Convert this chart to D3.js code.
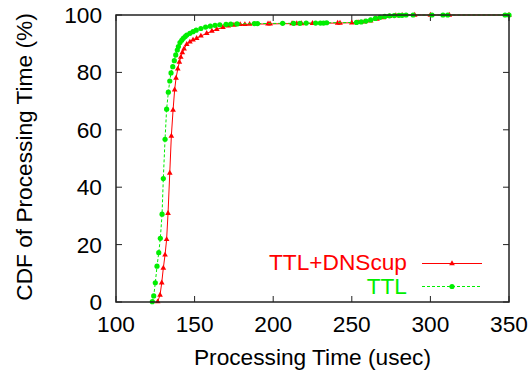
<!DOCTYPE html>
<html><head><meta charset="utf-8">
<script src="https://cdn.jsdelivr.net/npm/d3@7"></script>
<style>body{margin:0;background:#fff}svg{display:block}text{font-family:"Liberation Sans",Arial,sans-serif;}</style>
</head><body><svg id="c" width="532" height="375"></svg>
<script>
const xTicks = [100,150,200,250,300,350];
const yTicks = [0,20,40,60,80,100];
const seriesNames = ["TTL+DNScup","TTL"];
const dnscupX = [126.5,128.0,129.1,130.1,131.2,132.2,133.1,134.2,135.2,136.3,137.3,138.2,139.3,140.3,141.2,142.2,143.3,145.0,147,149,151.3,154,157.7,161,164.1,168,171.4,175,179,182,185,196.7,198,212,215,218,225,241,242.5,250,254,258,262,266,270,274,278,282,290,300,312,350];
const dnscupY = [0.1,2.4,6.7,11.8,16.4,21.8,30.9,44.9,57.8,66.9,73.9,78.0,81.2,83.6,85.3,86.9,88.2,89.8,90.6,91.3,91.9,92.7,93.6,94.4,95.0,95.7,96.2,96.5,96.7,96.7,96.8,96.9,96.9,97.0,97.0,97.0,97.1,97.2,97.2,97.3,97.4,97.6,98.0,98.6,99.1,99.5,99.8,99.9,100,100,100,100];
const ttlX = [123.1,124.0,125.0,126.1,127.2,128.2,129.3,130.1,131.2,132.2,133.3,134.2,135.0,136.1,137.1,138.0,139,139.7,140.7,141.8,142.8,144,145,147,149,151,154,157,160,163,166,170,173,177,188,190,206,213,217,221,227,230,232,234,253,256,259,262,265,268,271,274,277,280,282,284.5,289,301,308,311,347.5,350];
const ttlY = [0.1,2.1,6.7,12.5,17.2,22.2,30.6,43.0,56.7,67.2,73.1,77.0,79.8,82.0,84.1,86.1,87.8,89.0,90.4,91.2,91.9,92.5,93.0,93.6,94.2,94.7,95.3,95.8,96.1,96.4,96.6,96.7,96.8,96.9,97.0,97.0,97.1,97.1,97.1,97.2,97.2,97.2,97.2,97.3,97.4,97.6,97.9,98.3,98.8,99.2,99.5,99.7,99.8,99.9,99.9,100,100,100,100,100,100,100];

const svg = d3.select("#c");
const L=116,R=509,T=15,B=302;
const x = d3.scaleLinear().domain([100,350]).range([L,R]);
const y = d3.scaleLinear().domain([0,100]).range([B,T]);
const fs = 22.7;

const g = svg.append("g");
const tl = 6;
const ax = g.append("g").attr("stroke","#222").attr("stroke-width",1);
xTicks.forEach(v=>{
  ax.append("line").attr("x1",x(v)).attr("x2",x(v)).attr("y1",B).attr("y2",B-tl);
  ax.append("line").attr("x1",x(v)).attr("x2",x(v)).attr("y1",T).attr("y2",T+tl);
});
yTicks.forEach(v=>{
  ax.append("line").attr("x1",L).attr("x2",L+tl).attr("y1",y(v)).attr("y2",y(v));
  ax.append("line").attr("x1",R).attr("x2",R-tl).attr("y1",y(v)).attr("y2",y(v));
});
g.selectAll(".xl").data(xTicks).enter().append("text")
  .attr("x",d=>x(d)).attr("y",332).attr("text-anchor","middle").attr("font-size",fs).text(d=>d);
g.selectAll(".yl").data(yTicks).enter().append("text")
  .attr("x",102).attr("y",d=>y(d)+8).attr("text-anchor","end").attr("font-size",fs).text(d=>d);
g.append("text").attr("x",312.5).attr("y",365).attr("text-anchor","middle").attr("font-size",fs).text("Processing Time (usec)");
g.append("text").attr("transform","translate(32,157) rotate(-90)").attr("text-anchor","middle").attr("font-size",fs).text("CDF of Processing Time (%)");

const line = d3.line().x(d=>x(d[0])).y(d=>y(d[1]));
const red = dnscupX.map((v,i)=>[v,dnscupY[i]]);
const green = ttlX.map((v,i)=>[v,ttlY[i]]);
const tri = d3.symbol().type(d3.symbolTriangle).size(14);

g.append("path").datum(red).attr("d",line).attr("fill","none").attr("stroke","#ff0000").attr("stroke-width",1);
g.selectAll(".rm").data(red).enter().append("path").attr("d",tri).attr("transform",d=>`translate(${x(d[0])},${y(d[1])})`).attr("fill","#ff0000");
g.append("path").datum(green).attr("d",line).attr("fill","none").attr("stroke","#00ee00").attr("stroke-width",1).attr("stroke-dasharray","3,2");
g.selectAll(".gm").data(green).enter().append("circle").attr("cx",d=>x(d[0])).attr("cy",d=>y(d[1])).attr("r",2.6).attr("fill","#00ee00");

g.append("rect").attr("x",L).attr("y",T).attr("width",R-L).attr("height",B-T).attr("fill","none").attr("stroke","#222").attr("stroke-width",1.5);

const lg = g.append("g");
lg.append("text").attr("x",407).attr("y",270).attr("text-anchor","end").attr("font-size",fs).attr("fill","#ff0000").text(seriesNames[0]);
lg.append("line").attr("x1",422).attr("x2",482).attr("y1",263.5).attr("y2",263.5).attr("stroke","#ff0000");
lg.append("path").attr("d",tri).attr("transform","translate(452,263.5)").attr("fill","#ff0000");
lg.append("text").attr("x",407).attr("y",293.5).attr("text-anchor","end").attr("font-size",fs).attr("fill","#00ee00").text(seriesNames[1]);
lg.append("line").attr("x1",422).attr("x2",482).attr("y1",286.5).attr("y2",286.5).attr("stroke","#00ee00").attr("stroke-dasharray","3,2");
lg.append("circle").attr("cx",452).attr("cy",286.5).attr("r",2.6).attr("fill","#00ee00");
</script></body></html>
